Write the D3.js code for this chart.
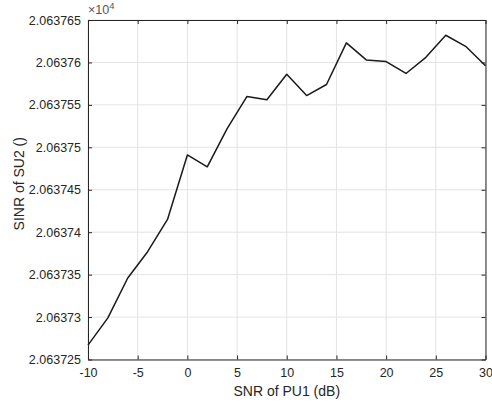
<!DOCTYPE html>
<html>
<head>
<meta charset="utf-8">
<script src="https://cdn.jsdelivr.net/npm/d3@7"></script>
<style>
  body { margin: 0; background: #fff; }
  svg { font-family: "Liberation Sans", Arial, sans-serif; }
</style>
</head>
<body>
<div id="chart"></div>
<script>
// SNR of PU1 (dB)
const snr = [-10, -8, -6, -4, -2, 0, 2, 4, 6, 8, 10, 12, 14, 16, 18, 20, 22, 24, 26, 28, 30];
// SINR of SU2, shown in units of 1e4
const sinr = [2.0637267, 2.0637299, 2.0637346, 2.0637377, 2.0637415, 2.0637491, 2.0637477,
    2.0637522, 2.0637560, 2.0637556, 2.0637586, 2.0637561, 2.0637574, 2.0637623, 2.0637603,
    2.0637601, 2.0637587, 2.0637606, 2.0637632, 2.0637619, 2.0637596];
const xTicks = [-10, -5, 0, 5, 10, 15, 20, 25, 30];
const yTicks = [2.063725, 2.06373, 2.063735, 2.06374, 2.063745, 2.06375, 2.063755, 2.06376, 2.063765];

const W = 492, H = 403;
const margin = { top: 20, right: 6.5, bottom: 43.5, left: 88 };
const width = W - margin.left - margin.right;
const height = H - margin.top - margin.bottom;

const svg = d3.select("#chart").append("svg")
    .attr("width", W)
    .attr("height", H);

const g = svg.append("g")
    .attr("transform", `translate(${margin.left},${margin.top})`);

const x = d3.scaleLinear().domain([-10, 30]).range([0, width]);
const y = d3.scaleLinear().domain([2.063725, 2.063765]).range([height, 0]);

const axisColor = "#262626";
const gridColor = "#e3e3e3";

// grid
g.append("g").selectAll("line").data(xTicks).join("line")
    .attr("x1", d => x(d)).attr("x2", d => x(d))
    .attr("y1", 0).attr("y2", height)
    .attr("stroke", gridColor).attr("stroke-width", 1);
g.append("g").selectAll("line").data(yTicks).join("line")
    .attr("x1", 0).attr("x2", width)
    .attr("y1", d => y(d)).attr("y2", d => y(d))
    .attr("stroke", gridColor).attr("stroke-width", 1);

// axes (ticks inward)
function styleAxis(sel) {
    sel.select(".domain").attr("stroke", axisColor);
    sel.selectAll(".tick line").attr("stroke", axisColor);
    sel.selectAll(".tick text").attr("fill", axisColor).attr("font-size", "12.5px");
}

g.append("g")
    .attr("transform", `translate(0,${height})`)
    .call(d3.axisBottom(x).tickValues(xTicks).tickSize(-4).tickSizeOuter(0).tickPadding(9)
        .tickFormat(d => String(d)))
    .call(styleAxis);

g.append("g")
    .call(d3.axisLeft(y).tickValues(yTicks).tickSize(-4).tickSizeOuter(0).tickPadding(7)
        .tickFormat(d => d3.format(".7")(d).replace(/0+$/, "")))
    .call(styleAxis);

g.append("g")
    .call(d3.axisTop(x).tickValues(xTicks).tickSize(-4).tickSizeOuter(0).tickFormat(""))
    .call(styleAxis);

g.append("g")
    .attr("transform", `translate(${width},0)`)
    .call(d3.axisRight(y).tickValues(yTicks).tickSize(-4).tickSizeOuter(0).tickFormat(""))
    .call(styleAxis);

// line
const line = d3.line()
    .x((d, i) => x(snr[i]))
    .y(d => y(d));

g.append("path")
    .datum(sinr)
    .attr("fill", "none")
    .attr("stroke", "#1a1a1a")
    .attr("stroke-width", 1.5)
    .attr("stroke-linejoin", "round")
    .attr("d", line);

// exponent label
const expo = g.append("text")
    .attr("x", 0)
    .attr("y", -6)
    .attr("fill", "#555")
    .attr("font-size", "12.5px");
expo.append("tspan").text("\u00d710");
expo.append("tspan").attr("dy", -5).attr("font-size", "9.5px").text("4");

// axis labels
svg.append("text")
    .attr("x", margin.left + width / 2)
    .attr("y", 396)
    .attr("text-anchor", "middle")
    .attr("fill", axisColor)
    .attr("font-size", "14px")
    .text("SNR of PU1 (dB)");

svg.append("text")
    .attr("transform", `translate(24,${margin.top + height / 2 - 6}) rotate(-90)`)
    .attr("text-anchor", "middle")
    .attr("fill", axisColor)
    .attr("font-size", "14px")
    .text("SINR of SU2 ()");
</script>
</body>
</html>
